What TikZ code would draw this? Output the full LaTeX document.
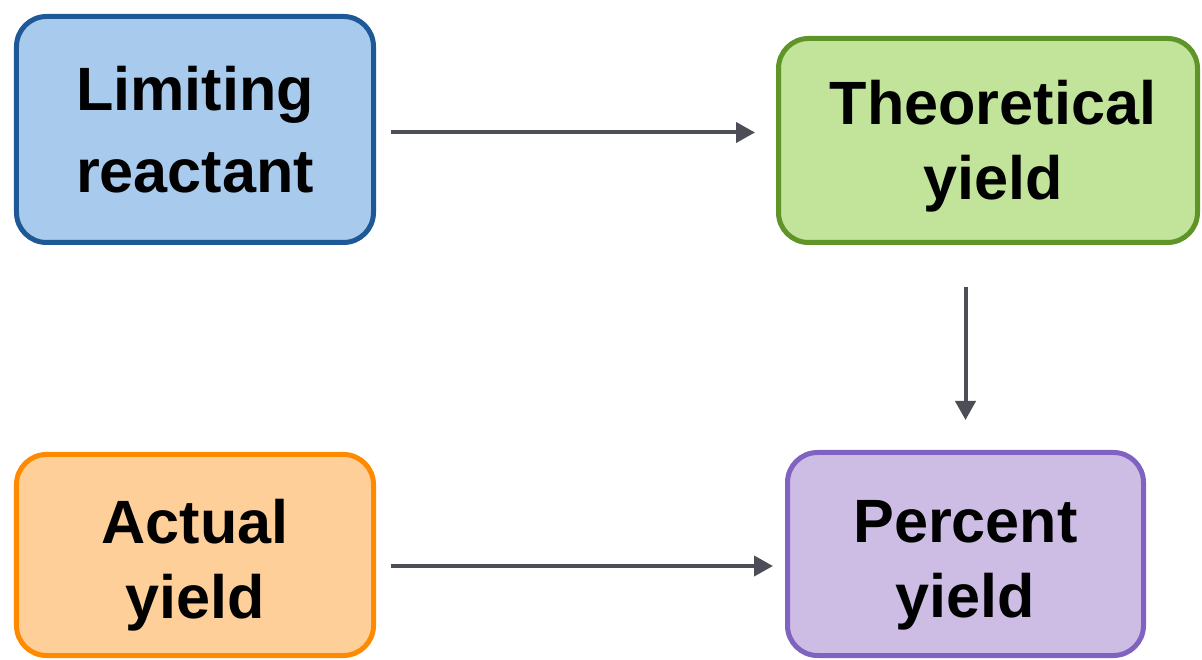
\documentclass[tikz,border=0pt]{standalone}
\usepackage{fontspec}
\setmainfont{Liberation Sans}
\usepackage{xcolor}
\usepackage{tikz}
\usetikzlibrary{arrows.meta}
\definecolor{limfill}{HTML}{A8CAEC}
\definecolor{limline}{HTML}{1F5896}
\definecolor{theofill}{HTML}{C1E49A}
\definecolor{theoline}{HTML}{5F9428}
\definecolor{actfill}{HTML}{FFCF99}
\definecolor{actline}{HTML}{FF8A00}
\definecolor{perfill}{HTML}{CDBDE5}
\definecolor{perline}{HTML}{8062C0}
\definecolor{arrgray}{HTML}{4B4D57}
\newcommand{\topgap}[1]{\rule{0pt}{#1}}

\begin{document}
\begin{tikzpicture}[
  box/.style={rounded corners=0.6cm,line width=0.1cm,inner sep=0pt,align=center,
    font=\fontsize{34.8}{42.7}\selectfont\bfseries},
  arr/.style={arrgray,line width=0.08cm,-{Triangle[length=0.38cm,width=0.4cm]}}]
\useasboundingbox (0,0) rectangle (24.04,-13.2);
\node[box,draw=limline,fill=limfill,minimum width=7.14cm,minimum height=4.52cm,
  font=\fontsize{34.8}{46.7}\selectfont\bfseries] (lim) at (3.9,-2.59) {Limiting\\reactant};
\node[box,draw=theoline,fill=theofill,minimum width=8.38cm,minimum height=4.08cm] (theo) at (19.76,-2.81) {\topgap{32pt}\hspace{0.2cm}Theoretical\\\hspace{0.2cm}yield};
\node[box,draw=actline,fill=actfill,minimum width=7.14cm,minimum height=4.02cm] (act) at (3.9,-11.1) {\topgap{36.5pt}Actual\\yield};
\node[box,draw=perline,fill=perfill,minimum width=7.12cm,minimum height=4.06cm] (per) at (19.31,-11.08) {\topgap{36.5pt}Percent\\yield};
\draw[arr,shorten <=0.3cm,shorten >=0.42cm] ([yshift=-0.06cm]lim.east) -- ([yshift=-0.06cm]lim.east -| theo.west);
\draw[arr,shorten <=0.84cm,shorten >=0.6cm] (theo.south -| per.north) -- (per.north);
\draw[arr,shorten <=0.3cm,shorten >=0.24cm] ([yshift=-0.22cm]act.east) -- ([yshift=-0.22cm]act.east -| per.west);
\end{tikzpicture}
\end{document}
